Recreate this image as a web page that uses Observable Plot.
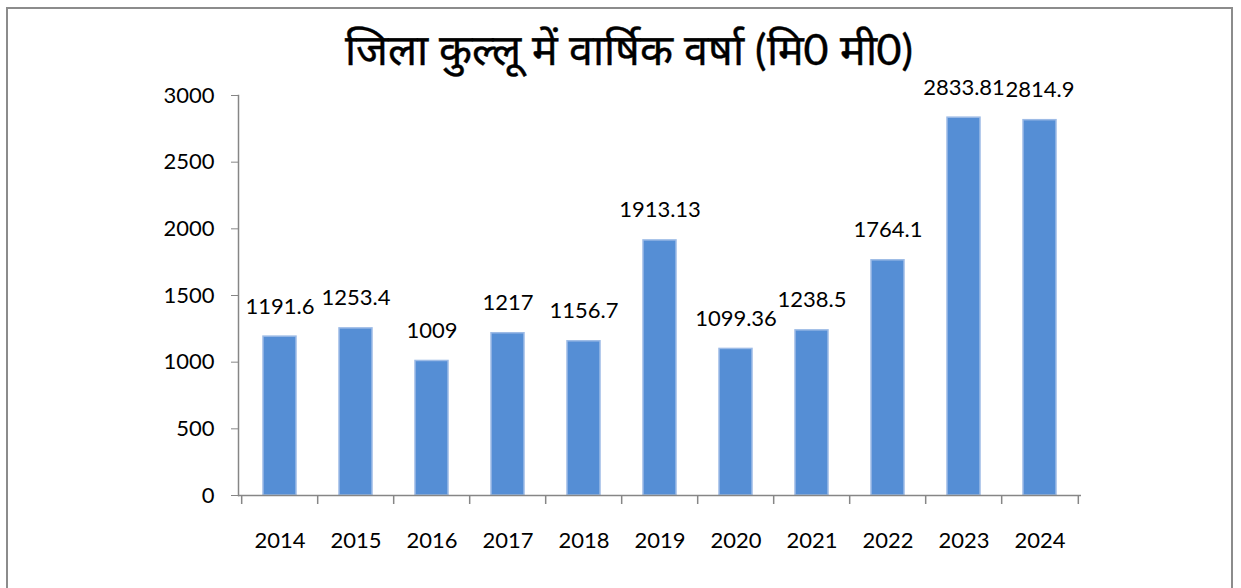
<!DOCTYPE html>
<html><head><meta charset="utf-8">
<script src="https://cdn.jsdelivr.net/npm/d3@7"></script>
<script src="https://cdn.jsdelivr.net/npm/@observablehq/plot@0.6"></script>
<style>
html,body{margin:0;padding:0;background:#fff;}
#wrap{position:relative;width:1241px;height:588px;overflow:hidden;font-family:Lato,"Open Sans",sans-serif;}
#frame{position:absolute;left:6px;top:7px;width:1227px;height:600px;border:2px solid #8c8c8c;box-sizing:border-box;}
#title{position:absolute;left:0;width:1258px;top:23px;text-align:center;font-size:43px;color:#000;line-height:1.2;-webkit-text-stroke:0.4px #000;}
#chart{position:absolute;left:0;top:0;}
</style></head>
<body><div id="wrap"><div id="frame"></div><div id="title"></div><div id="chart"></div></div>
<script>
const title = "जिला कुल्लू में वार्षिक वर्षा (मि0 मी0)";
const years = ["2014","2015","2016","2017","2018","2019","2020","2021","2022","2023","2024"];
const rainfall = [1191.6,1253.4,1009,1217,1156.7,1913.13,1099.36,1238.5,1764.1,2833.81,2814.9];
const labels = ["1191.6","1253.4","1009","1217","1156.7","1913.13","1099.36","1238.5","1764.1","2833.81","2814.9"];
const yTicks = [0,500,1000,1500,2000,2500,3000];

document.getElementById("title").textContent = title;
const data = years.map((y,i)=>({year:y, value:rainfall[i], label:labels[i]}));
const W=1241,H=588,ML=238,MR=160,MT=95,MB=93;
const step=(W-ML-MR)/years.length;
const chart = Plot.plot({
  width:W,height:H,marginLeft:ML,marginRight:MR,marginTop:MT,marginBottom:MB,
  style:{fontFamily:"Lato, 'Open Sans', sans-serif",fontSize:"22px",color:"#000",background:"transparent"},
  x:{type:"band",domain:years,paddingInner:0.57,paddingOuter:0.285,label:null},
  y:{domain:[0,3000],label:null},
  marks:[
    Plot.barY(data,{x:"year",y:"value",fill:"#558ed5",stroke:"#9dbbe6",strokeWidth:1.5}),
    Plot.ruleY([0],{stroke:"#868686",strokeWidth:1.5}),
    Plot.frame({anchor:"left",stroke:"#868686",strokeWidth:1.5}),
    Plot.ruleX(years,{x:d=>d,y1:0,y2:0,insetBottom:-9,dx:-step/2,stroke:"#868686",strokeWidth:1.5}),
    Plot.ruleX(years.slice(-1),{x:d=>d,y1:0,y2:0,insetBottom:-9,dx:step/2,stroke:"#868686",strokeWidth:1.5}),
    Plot.axisY({ticks:yTicks,tickSize:7,tickPadding:17,stroke:"#868686",fontSize:22,tickFormat:d=>String(d)}),
    Plot.axisX({tickSize:0,tickPadding:37,fontSize:22}),
    Plot.text(data,{x:"year",y:"value",text:"label",dy:-30,fontSize:22,fill:"#000"})
  ]
});
document.getElementById("chart").appendChild(chart);
</script></body></html>
